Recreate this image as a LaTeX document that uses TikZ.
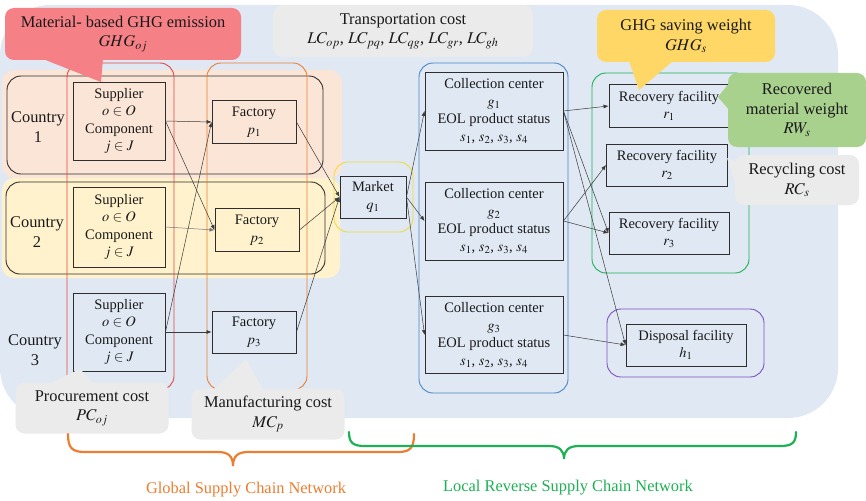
\documentclass[tikz,border=0pt]{standalone}
\usepackage{mathptmx}
\usepackage{fontspec}
\setmainfont{Liberation Serif}
\usetikzlibrary{arrows.meta}
\definecolor{bgblue}{HTML}{DFE8F3}
\definecolor{peach}{HTML}{FBE5D6}
\definecolor{cream}{HTML}{FFF2CC}
\definecolor{ink}{HTML}{1A1A1A}
\definecolor{edge}{HTML}{2E2E2E}
\definecolor{wire}{HTML}{3A3A3A}
\definecolor{colred}{HTML}{E2483F}
\definecolor{orange}{HTML}{ED7D31}
\definecolor{yellow}{HTML}{F0DC3C}
\definecolor{blue}{HTML}{4A86C6}
\definecolor{green}{HTML}{1DB054}
\definecolor{violet}{HTML}{8050C0}
\definecolor{salmon}{HTML}{F58086}
\definecolor{gold}{HTML}{FFD766}
\definecolor{leaf}{HTML}{A9D18E}
\definecolor{note}{HTML}{EBEBEB}
\newcommand\cellfont{\fontsize{14.5}{17.5}\selectfont}
\newcommand\callfont{\fontsize{16.4}{19.5}\selectfont}

\begin{document}
\begin{tikzpicture}[x=1pt,y=-1pt,text=ink,box/.style={draw=edge,line width=.9pt,align=center,font=\cellfont,inner sep=1pt},bubble/.style={rounded corners=9pt,align=center,font=\callfont,inner sep=2pt},arrow/.style={-{Latex[length=5pt,width=4pt]},line width=.5pt,wire},column/.style={rounded corners=14pt,line width=.9pt}]
 \useasboundingbox (0,0) rectangle (866,500);
 \fill[bgblue,rounded corners=50pt] (0,5) rectangle (838,418);
 \fill[peach,rounded corners=12pt] (2,70) rectangle (342,178);
 \fill[cream,rounded corners=12pt] (2,178) rectangle (340,278);
 \draw[column,edge] (7,76) rectangle (323,174); \draw[column,edge] (6,182) rectangle (325,274);
 \draw[column,colred] (67,63) rectangle (174,390); \draw[column,orange] (207,63) rectangle (307,390);
 \draw[column,yellow] (334,162) rectangle (413,232); \draw[column,blue] (419,63) rectangle (568,393);
 \draw[column,green] (592,73) rectangle (749,273); \draw[column,violet] (607,309) rectangle (764,377);
 \node[font=\callfont,align=center,inner sep=0pt] (country1) at (38,127) {Country\\1};
 \node[font=\callfont,align=center,inner sep=0pt] (country2) at (37,232) {Country\\2};
 \node[font=\callfont,align=center,inner sep=0pt] (country3) at (35,350) {Country\\3};
 \node[box,minimum width=92pt,minimum height=78pt] (s1) at (119,121) {Supplier\\$o\in O$\\Component\\$j\in J$};
 \node[box,minimum width=92pt,minimum height=80pt] (s2) at (119,227) {Supplier\\$o\in O$\\Component\\$j\in J$};
 \node[box,minimum width=92pt,minimum height=78pt] (s3) at (119,332) {Supplier\\$o\in O$\\Component\\$j\in J$};
 \node[box,minimum width=84pt,minimum height=43pt] (p1) at (254,122) {Factory\\$p_1$};
 \node[box,minimum width=84pt,minimum height=43pt] (p2) at (257,230) {Factory\\$p_2$};
 \node[box,minimum width=84pt,minimum height=42pt] (p3) at (254,332) {Factory\\$p_3$};
 \node[box,minimum width=66pt,minimum height=42pt] (q1) at (373,197) {Market\\$q_1$};
 \node[box,minimum width=138pt,minimum height=78pt] (g1) at (494,111) {Collection center\\$g_1$\\EOL product status\\$s_1$, $s_2$, $s_3$, $s_4$};
 \node[box,minimum width=138pt,minimum height=78pt] (g2) at (494,221) {Collection center\\$g_2$\\EOL product status\\$s_1$, $s_2$, $s_3$, $s_4$};
 \node[box,minimum width=138pt,minimum height=77pt] (g3) at (494,335) {Collection center\\$g_3$\\EOL product status\\$s_1$, $s_2$, $s_3$, $s_4$};
 \node[box,minimum width=120pt,minimum height=43pt] (r1) at (669,106) {Recovery facility\\$r_1$};
 \node[box,minimum width=121pt,minimum height=42pt] (r2) at (667,165) {Recovery facility\\$r_2$};
 \node[box,minimum width=120pt,minimum height=42pt] (r3) at (669,233) {Recovery facility\\$r_3$};
 \node[box,minimum width=120pt,minimum height=42pt] (h1) at (686,345) {Disposal facility\\$h_1$};
 \draw[arrow] (s1.east)--(p1.west); \draw[arrow] (s1.east)--(p2.west); \draw[arrow,wire!70] (s2.east)--(p2.west);
 \draw[arrow] (s3.east)--(p3.west); \draw[arrow] (s3.east)--(p1.west);
 \draw[arrow] (p1.east)--(q1.west); \draw[arrow] (p2.east)--(q1.west); \draw[arrow] (p3.east)--(q1.west);
 \draw[arrow] (q1.east)--(g1.west); \draw[arrow] (q1.east)--(g2.west); \draw[arrow] (q1.east)--(g3.west);
 \draw[arrow] (g1.east)--(r1.west); \draw[arrow] (g1.east)--(r3.west); \draw[arrow] (g1.east)--(h1.west);
 \draw[arrow] (g2.east)--(r2.west); \draw[arrow] (g2.east)--(r3.west); \draw[arrow] (g3.east)--(h1.west);
 \node[bubble,fill=salmon,minimum width=236pt,minimum height=52pt] (ghgm) at (123,34) {Material- based GHG emission\\$GHG_{oj}$};
 \fill[salmon] (43,59)--(103,59)--(101,82)--cycle;
 \node[bubble,fill=note,minimum width=260pt,minimum height=52pt] (lc) at (403,31) {Transportation cost\\$LC_{op}$, $LC_{pq}$, $LC_{qg}$, $LC_{gr}$, $LC_{gh}$};
 \node[bubble,fill=gold,minimum width=178pt,minimum height=52pt] (ghgs) at (686,36) {GHG saving weight\\$GHG_s$};
 \fill[gold] (629,61)--(673,61)--(639,90)--cycle;
 \node[bubble,fill=leaf,minimum width=138pt,minimum height=74pt] (rw) at (797,110) {Recovered\\material weight\\$RW_s$};
 \fill[leaf] (730,82)--(730,111)--(718,97)--cycle;
 \node[bubble,fill=note,minimum width=124pt,minimum height=50pt] (rc) at (797,180) {Recycling cost\\$RC_s$};
 \fill[note] (736,162)--(736,186)--(727,158)--cycle;
 \node[bubble,fill=note,minimum width=153pt,minimum height=51pt] (pc) at (92,408) {Procurement cost\\$PC_{oj}$};
 \fill[note] (48,384)--(95,384)--(80,369)--cycle;
 \node[bubble,fill=note,minimum width=153pt,minimum height=51pt] (mc) at (268,414) {Manufacturing cost\\$MC_p$};
 \fill[note] (213,390)--(263,390)--(246,359)--cycle;
 \draw[orange,line width=2.2pt,line cap=round] (68,434) .. controls (68,448) and (72,452) .. (85,452)--(218,452) .. controls (228,452) and (233,456) .. (233,466) .. controls (233,456) and (238,452) .. (248,452)--(398,452) .. controls (410,452) and (414,448) .. (414,434);
 \draw[green,line width=2.2pt,line cap=round] (349,432) .. controls (349,443) and (353,446) .. (365,446)--(549,446) .. controls (559,446) and (564,450) .. (564,459) .. controls (564,450) and (569,446) .. (579,446)--(780,446) .. controls (792,446) and (796,443) .. (796,432);
 \node[font=\callfont,text=orange] (global) at (246,490) {Global Supply Chain Network};
 \node[font=\callfont,text=green] (local) at (568,488) {Local Reverse Supply Chain Network};
\end{tikzpicture}
\end{document}
